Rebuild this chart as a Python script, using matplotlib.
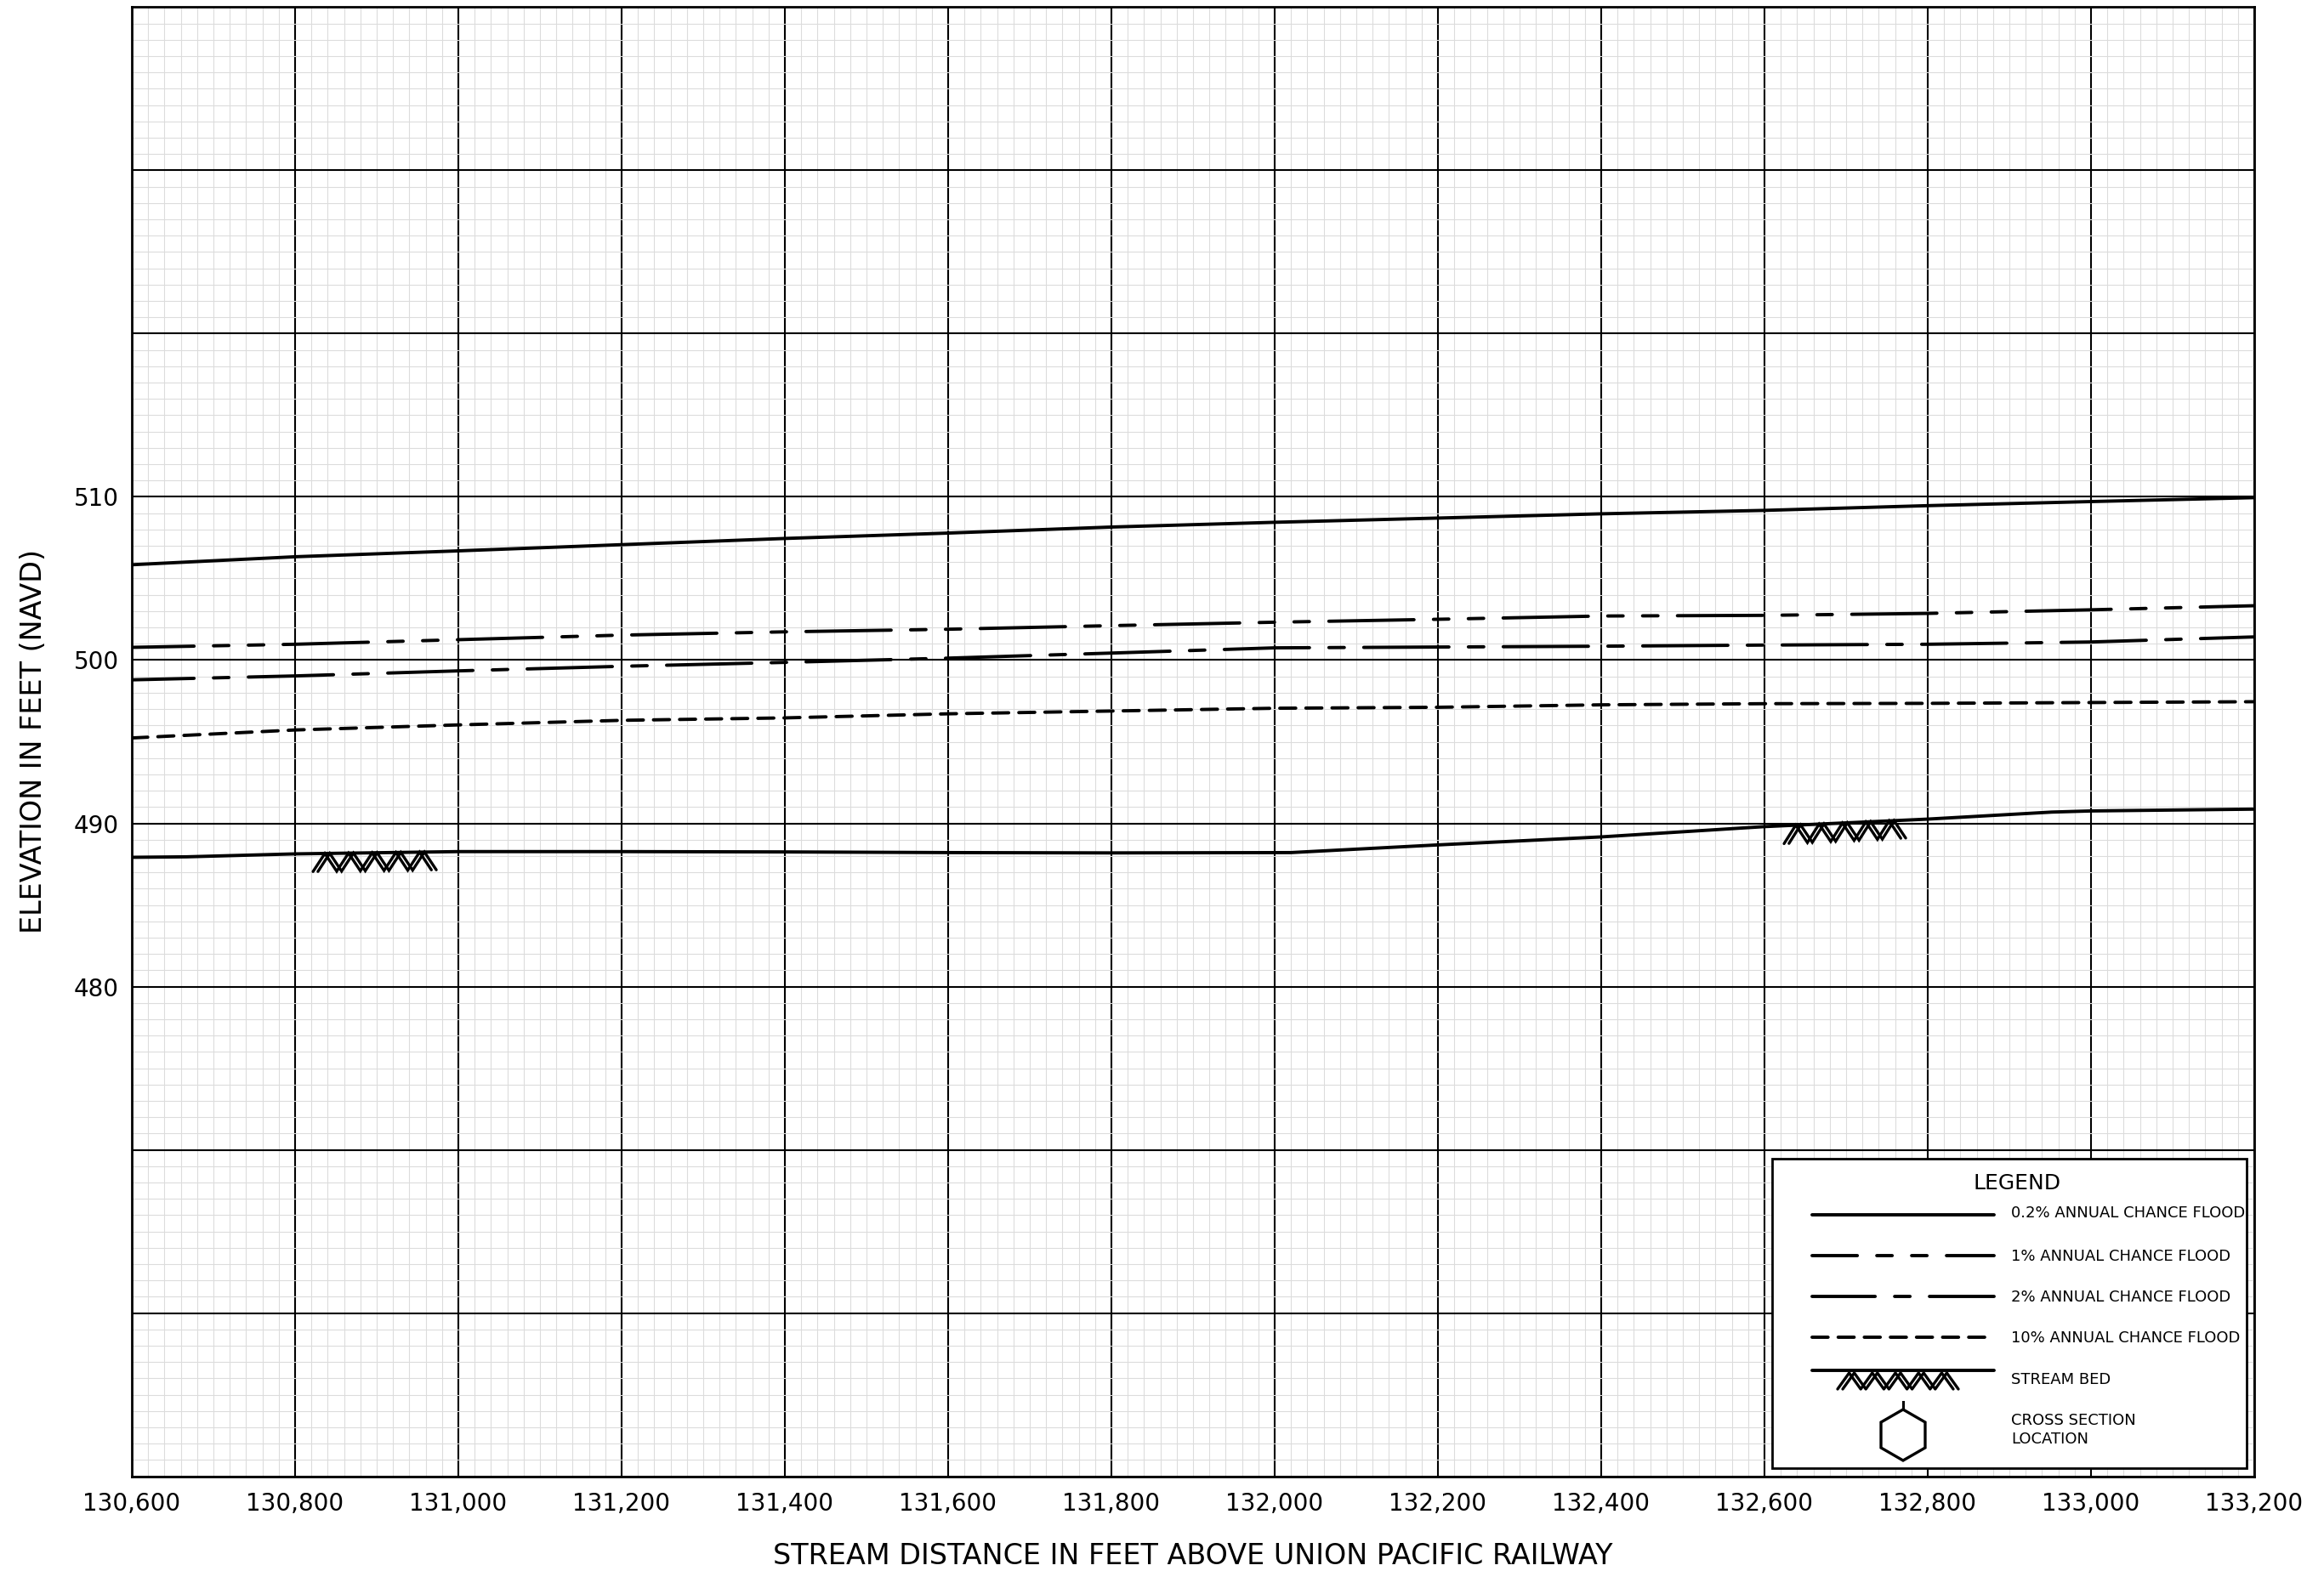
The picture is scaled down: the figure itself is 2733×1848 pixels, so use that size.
import numpy as np
import matplotlib
matplotlib.use('Agg')
import matplotlib.pyplot as plt
from matplotlib.lines import Line2D
from matplotlib.patches import Rectangle, RegularPolygon
from matplotlib.ticker import MultipleLocator, FixedLocator, FuncFormatter

plt.rcParams['lines.scale_dashes'] = False
plt.rcParams['font.family'] = ['DejaVu Sans']

# ---------------- data ----------------
stations = [130600, 130800, 131000, 131200, 131400, 131600, 131800,
            132000, 132200, 132400, 132600, 132800, 133000, 133200]
flood_02 = [505.84, 506.33, 506.69, 507.07, 507.45, 507.78, 508.15,
            508.44, 508.70, 508.96, 509.17, 509.46, 509.71, 509.95]
flood_1 = [500.78, 500.97, 501.25, 501.53, 501.73, 501.89, 502.11,
           502.32, 502.50, 502.70, 502.74, 502.86, 503.08, 503.33]
flood_2 = [498.79, 499.03, 499.34, 499.62, 499.86, 500.12, 500.43,
           500.75, 500.80, 500.85, 500.92, 500.97, 501.11, 501.42]
flood_10 = [495.23, 495.72, 496.03, 496.31, 496.46, 496.71, 496.88,
            497.05, 497.11, 497.26, 497.33, 497.35, 497.40, 497.45]
bed_stations = [130600, 130667, 130800, 131000, 131200, 131400, 131600,
                131800, 132020, 132200, 132400, 132600, 132800, 132952,
                133000, 133200]
bed_elev = [487.92, 487.95, 488.13, 488.27, 488.27, 488.25, 488.21,
            488.19, 488.21, 488.68, 489.17, 489.80, 490.26, 490.69,
            490.76, 490.87]
bed_symbol_ranges = [(130822, 130973), (132624, 132773)]

x_ticks = list(range(130600, 133201, 200))
y_major = list(range(450, 541, 10))
y_labeled = [480, 490, 500, 510]

legend_labels = ["0.2% ANNUAL CHANCE FLOOD", "1% ANNUAL CHANCE FLOOD",
                 "2% ANNUAL CHANCE FLOOD", "10% ANNUAL CHANCE FLOOD",
                 "STREAM BED", "CROSS SECTION", "LOCATION"]

# ---------------- styles ----------------
LW = 2.8
STY_1 = (19.4, (72.1, 16.5, 13.0, 16.5, 13.0, 16.5))
STY_2 = (19.4, (72.1, 16.5, 13.0, 16.5))
STY_10 = (0.0, (13.5, 8.6))

W, H = 2733, 1848
fig = plt.figure(figsize=(W / 100, H / 100), dpi=100)
ax = fig.add_axes([155 / W, 1 - 1736.7 / H, (2651 - 155) / W, (1736.7 - 8.3) / H])
ax.set_xlim(130600, 133200)
ax.set_ylim(450, 540)

ax.xaxis.set_major_locator(FixedLocator(x_ticks))
ax.xaxis.set_major_formatter(FuncFormatter(lambda v, p: f"{int(round(v)):,}"))
ax.xaxis.set_minor_locator(MultipleLocator(20))
ax.yaxis.set_major_locator(FixedLocator(y_major))
ax.yaxis.set_major_formatter(FuncFormatter(
    lambda v, p: f"{int(round(v))}" if int(round(v)) in y_labeled else ""))
ax.yaxis.set_minor_locator(MultipleLocator(1))

ax.grid(which='minor', color='#dcdcdc', lw=0.8)
ax.grid(which='major', color='black', lw=1.5)
ax.set_axisbelow(True)
ax.tick_params(which='both', length=0)
ax.tick_params(axis='x', labelsize=20, pad=13)
ax.tick_params(axis='y', labelsize=20, pad=11)
for s in ax.spines.values():
    s.set_linewidth(2.0)

common = dict(color='black', lw=LW, solid_capstyle='round', dash_capstyle='round', zorder=3)
ax.plot(stations, flood_02, linestyle='-', **common)
ax.plot(stations, flood_1, linestyle=STY_1, **common)
ax.plot(stations, flood_2, linestyle=STY_2, **common)
ax.plot(stations, flood_10, linestyle=STY_10, **common)
ax.plot(bed_stations, bed_elev, linestyle='-', **common)


def zigzag(x0, x1, ytop, h, dx, n=5):
    w = (x1 - x0) / n
    xs = [x0]
    for k in range(n):
        xs += [x0 + (k + 0.5) * w, x0 + (k + 1) * w]
    xs = np.array(xs)
    kind = np.array([0] + [1, 0] * n)
    paths = []
    for off in (0.0, dx):
        xx = xs + off
        yt = ytop(xx)
        yy = np.where(kind == 1, yt, yt - h)
        paths.append((xx, yy))
    return paths


bed_top = lambda x: np.interp(x, bed_stations, bed_elev)
for (a, b) in bed_symbol_ranges:
    for xx, yy in zigzag(a, b - 6, bed_top, 1.1, 6.0):
        ax.plot(xx, yy, color='black', lw=2.4, solid_capstyle='round',
                solid_joinstyle='miter', zorder=3)

# ---------------- labels ----------------
fig.text(40 / W, 1 - 872 / H, "ELEVATION IN FEET (NAVD)", rotation=90,
         ha='center', va='center', fontsize=24)
fig.text(1403 / W, 1 - 1830 / H, "STREAM DISTANCE IN FEET ABOVE UNION PACIFIC RAILWAY",
         ha='center', va='center', fontsize=24)

# ---------------- legend (figure pixel layout) ----------------
fx = lambda x: x / W
fy = lambda y: 1 - y / H
tf = fig.transFigure

box = Rectangle((fx(2084), fy(1727)), (2642 - 2084) / W, (1727 - 1363) / H,
                transform=tf, facecolor='white', edgecolor='black', lw=2.0, zorder=5)
fig.add_artist(box)
fig.text(fx(2372), fy(1392), "LEGEND", ha='center', va='center', fontsize=18, zorder=6)

sample_styles = ['-', (33.8, STY_1[1]), (18.7, STY_2[1]), STY_10]
row_y = [1429, 1477, 1525, 1573]
text_y = [1427, 1478, 1526, 1574, 1623]
for sty, yy in zip(sample_styles, row_y):
    fig.add_artist(Line2D([fx(2131), fx(2345)], [fy(yy), fy(yy)], transform=tf,
                          linestyle=sty, color='black', lw=LW,
                          solid_capstyle='round', dash_capstyle='round', zorder=6))
for lab, yy in zip(legend_labels[:5], text_y):
    fig.text(fx(2365), fy(yy), lab, ha='left', va='center', fontsize=13, zorder=6)

# stream bed sample
fig.add_artist(Line2D([fx(2131), fx(2345)], [fy(1612), fy(1612)], transform=tf,
                      color='black', lw=LW, solid_capstyle='round', zorder=6))
for xx, yy in zigzag(2161, 2297, lambda x: np.full_like(x, -1615.0), 19, 6):
    fig.add_artist(Line2D(fx(xx), fy(-yy), transform=tf, color='black', lw=2.4,
                          solid_capstyle='round', zorder=6))

# cross section hexagon
fig.add_artist(Line2D([fx(2238), fx(2238)], [fy(1649), fy(1658)], transform=tf,
                      color='black', lw=2.2, zorder=6))
hexagon = RegularPolygon((2238, 1688), numVertices=6, radius=30, orientation=0,
                         facecolor='none', edgecolor='black', lw=2.4, zorder=6,
                         transform=matplotlib.transforms.Affine2D().scale(1 / W, -1 / H)
                         .translate(0, 1) + tf)
fig.add_artist(hexagon)
fig.text(fx(2365), fy(1671), legend_labels[5], ha='left', va='center', fontsize=13, zorder=6)
fig.text(fx(2365), fy(1693), legend_labels[6], ha='left', va='center', fontsize=13, zorder=6)

fig.savefig('out.png', dpi=100)
